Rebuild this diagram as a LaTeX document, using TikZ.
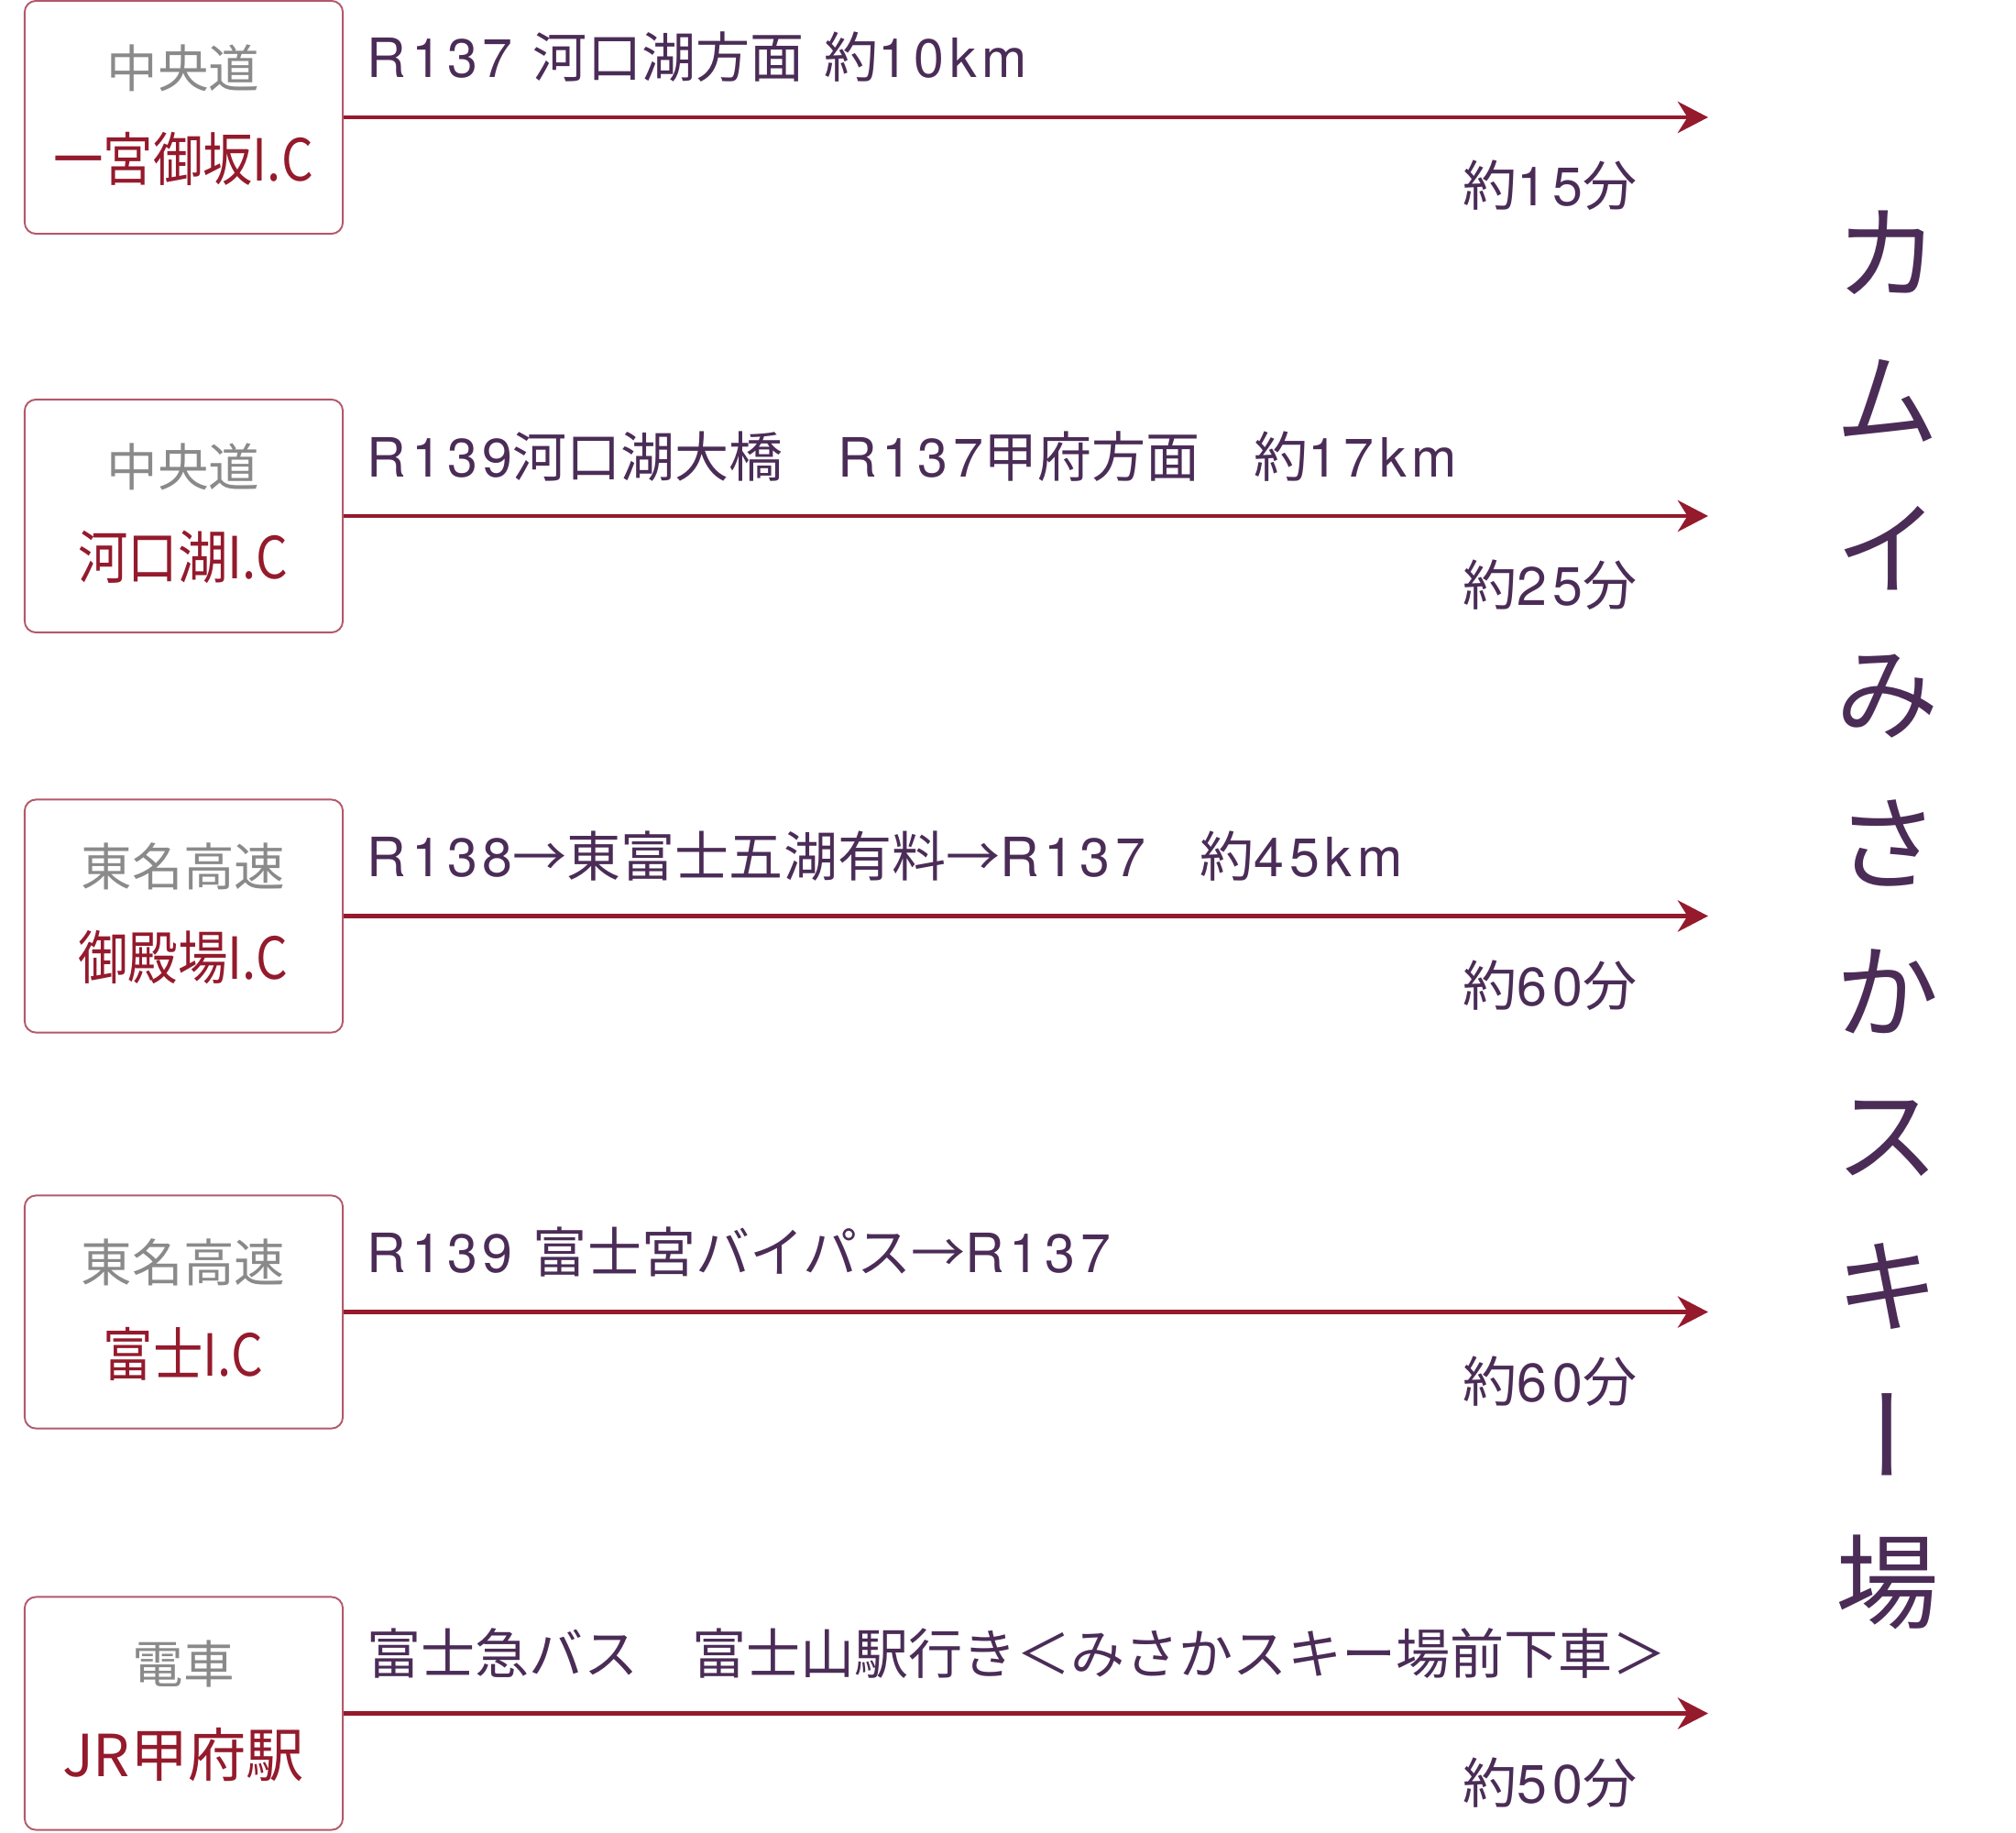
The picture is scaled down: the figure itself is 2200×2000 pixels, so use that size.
\documentclass[tikz,border=0pt]{standalone}
\usepackage{fontspec}
\setmainfont{Noto Sans CJK JP}
\newfontfamily\latfont{TeX Gyre Heros}[LetterSpace=10]
\newcommand\lat[1]{{\latfont #1}}
\usepackage{graphicx}
\usetikzlibrary{arrows.meta}
\tikzset{>={Stealth[length=9.4pt,width=9.7pt,inset=3pt]}}
\definecolor{routered}{HTML}{941A2C}
\definecolor{boxline}{HTML}{B4586A}
\definecolor{textpurple}{HTML}{4B2C57}
\definecolor{textgray}{HTML}{8A8A8A}
\tikzset{
  icbox/.style={draw=boxline, line width=0.55pt, rounded corners=3.5pt, minimum width=3.47cm, minimum height=2.54cm, inner sep=0},
  roadname/.style={text=textgray, font=\fontsize{15.8}{19}\selectfont, inner sep=0},
  icname/.style={text=routered, font=\fontsize{18}{21}\selectfont, inner sep=0},
  routetext/.style={text=textpurple, font=\fontsize{16.8}{20}\selectfont, inner sep=0, anchor=base west},
  durtext/.style={text=textpurple, font=\fontsize{16.8}{20}\selectfont, inner sep=0, anchor=base east},
  routearrow/.style={->, draw=routered, line width=1.4pt},
  titlechar/.style={text=textpurple, font=\fontsize{32}{36}\selectfont, inner sep=0},
}

\begin{document}
\begin{tikzpicture}[x=0.01cm, y=-0.01cm]
  \useasboundingbox (0,0) rectangle (2200,2000);
  % row 1: Chuo expressway, Ichinomiya-Misaka
  \node[icbox] (ic1) at (200.5,128) {};
  \node[roadname] (road1) at (200,74) {中央道};
  \node[icname] (name1) at (200,173) {\scalebox{0.86}[1]{一宮御坂I.C}};
  \coordinate (end1) at (1864,128);
  \draw[routearrow] (ic1.east) -- (end1);
  \node[routetext] (route1) at (400,85) {\lat{R137 }河口湖方面\lat{ }約\lat{10km}};
  \node[durtext] (dur1) at (1787,225) {約\lat{15}分};
  % row 2: Chuo expressway, Kawaguchiko
  \node[icbox] (ic2) at (200.5,563) {};
  \node[roadname] (road2) at (200,509) {中央道};
  \node[icname] (name2) at (200,608) {\scalebox{0.86}[1]{河口湖I.C}};
  \coordinate (end2) at (1864,563);
  \draw[routearrow] (ic2.east) -- (end2);
  \node[routetext] (route2) at (400,520) {\lat{R139}河口湖大橋　\lat{R137}甲府方面　約\lat{17km}};
  \node[durtext] (dur2) at (1787,660) {約\lat{25}分};
  % row 3: Tomei expressway, Gotemba
  \node[icbox] (ic3) at (200.5,999.5) {};
  \node[roadname] (road3) at (200,945) {東名高速};
  \node[icname] (name3) at (200,1045) {\scalebox{0.86}[1]{御殿場I.C}};
  \coordinate (end3) at (1864,999.5);
  \draw[routearrow] (ic3.east) -- (end3);
  \node[routetext] (route3) at (400,956) {\lat{R138}→東富士五湖有料→\lat{R137}　約\lat{45km}};
  \node[durtext] (dur3) at (1787,1097) {約\lat{60}分};
  % row 4: Tomei expressway, Fuji
  \node[icbox] (ic4) at (200.5,1431.5) {};
  \node[roadname] (road4) at (200,1377) {東名高速};
  \node[icname] (name4) at (200,1477) {\scalebox{0.86}[1]{富士I.C}};
  \coordinate (end4) at (1864,1431.5);
  \draw[routearrow] (ic4.east) -- (end4);
  \node[routetext] (route4) at (400,1388) {\lat{R139 }富士宮バイパス→\lat{R137}};
  \node[durtext] (dur4) at (1787,1529) {約\lat{60}分};
  % row 5: train, JR Kofu
  \node[icbox] (ic5) at (200.5,1869.5) {};
  \node[roadname] (road5) at (200,1815) {電車};
  \node[icname] (name5) at (200,1915) {JR甲府駅};
  \coordinate (end5) at (1864,1869.5);
  \draw[routearrow] (ic5.east) -- (end5);
  \node[routetext] (route5) at (400,1826) {富士急バス　富士山駅行き＜みさかスキー場前下車＞};
  \node[durtext] (dur5) at (1787,1967) {約\lat{50}分};
  % vertical title
  \foreach \ch/\dx [count=\k from 0] in {カ/0,ム/0,イ/0,み/0,さ/0,か/0,ス/0,キ/0,{\rotatebox{90}{ー}}/18,場/0}
    \node[titlechar] (title\k) at (2060+\dx,276+161.1*\k) {\ch};
\end{tikzpicture}
\end{document}
